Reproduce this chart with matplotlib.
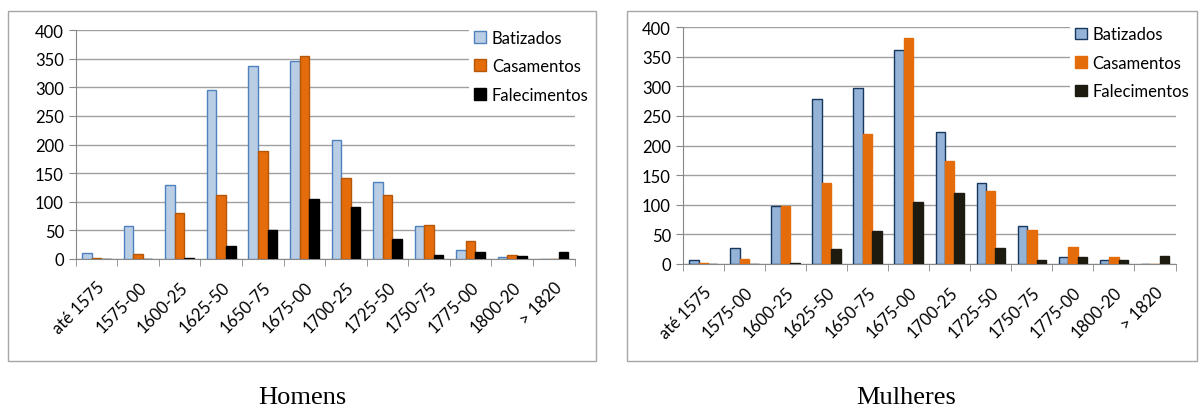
import numpy as np
import matplotlib
matplotlib.use('Agg')
from matplotlib import pyplot as plt
from matplotlib.patches import Rectangle

periodos = ['até 1575', '1575-00', '1600-25', '1625-50', '1650-75', '1675-00',
            '1700-25', '1725-50', '1750-75', '1775-00', '1800-20', '> 1820']

# Homens
h_batizados = [11, 58, 130, 295, 338, 346, 208, 134, 58, 15, 4, 0]
h_casamentos = [2, 9, 80, 111, 189, 355, 142, 111, 60, 31, 7, 0]
h_falecimentos = [0, 0, 1, 22, 50, 105, 90, 35, 7, 13, 5, 13]

# Mulheres
m_batizados = [6, 27, 98, 279, 298, 362, 223, 137, 64, 12, 6, 0]
m_casamentos = [1, 9, 98, 137, 220, 381, 174, 124, 58, 29, 11, 0]
m_falecimentos = [0, 0, 1, 25, 55, 104, 120, 27, 7, 11, 7, 13]

series_nomes = ['Batizados', 'Casamentos', 'Falecimentos']

plt.rcParams['font.family'] = ['Lato', 'DejaVu Sans']

fig = plt.figure(figsize=(12.02, 4.14), dpi=100)

# molduras dos dois paineis
for x0, x1 in [(8, 596), (627, 1197)]:
    fig.patches.append(Rectangle((x0 / 1202, 1 - 362 / 414), (x1 - x0) / 1202, (362 - 12) / 414,
                                 transform=fig.transFigure, fill=False,
                                 edgecolor='#a6a6a6', linewidth=1))


def painel(ax, dados, cores, bordas):
    x = np.arange(len(periodos))
    w = 0.23
    for i, (vals, nome) in enumerate(zip(dados, series_nomes)):
        ax.bar(x + (i - 1) * w, vals, w, color=cores[i], edgecolor=bordas[i],
               linewidth=1, label=nome, zorder=3)
    ax.set_xlim(-0.5, len(periodos) - 0.5)
    ax.set_ylim(0, 400)
    ax.set_yticks(range(0, 401, 50))
    ax.set_xticks(x)
    ax.set_xticklabels(periodos, rotation=45, ha='right', rotation_mode='anchor', fontsize=12)
    ax.set_xticks(np.arange(-0.5, len(periodos)), minor=True)
    ax.tick_params(axis='x', which='major', length=0, pad=14)
    ax.tick_params(axis='x', which='minor', length=5, color='#888888')
    ax.tick_params(axis='y', length=5, color='#888888', labelsize=12)
    ax.grid(axis='y', color='#a0a0a0', linewidth=1, zorder=0)
    ax.set_axisbelow(True)
    for s in ['top', 'right']:
        ax.spines[s].set_visible(False)
    for s in ['left', 'bottom']:
        ax.spines[s].set_color('#888888')
    leg = ax.legend(loc='upper right', bbox_to_anchor=(1.055, 1.06), fontsize=12,
                    frameon=True, fancybox=False, handlelength=0.7, handleheight=0.7,
                    handletextpad=0.35, labelspacing=0.75, borderpad=0.3)
    leg.get_frame().set_edgecolor('none')
    leg.get_frame().set_facecolor('white')
    leg.get_frame().set_alpha(1)


ax1 = fig.add_axes([0.063, 0.372, 0.415, 0.553])
painel(ax1, [h_batizados, h_casamentos, h_falecimentos],
       ['#b9cde5', '#e46c0a', '#000000'], ['#4f81bd', '#b65708', '#000000'])

ax2 = fig.add_axes([0.568, 0.36, 0.41, 0.572])
painel(ax2, [m_batizados, m_casamentos, m_falecimentos],
       ['#95b3d7', '#e46c0a', '#1d1b10'], ['#17375e', '#e46c0a', '#1d1b10'])

fig.text(302 / 1202, 1 - 398 / 414, 'Homens', ha='center', va='center',
         family='Liberation Serif', fontsize=19)
fig.text(906 / 1202, 1 - 398 / 414, 'Mulheres', ha='center', va='center',
         family='Liberation Serif', fontsize=19)

fig.savefig('out.png', dpi=100)
